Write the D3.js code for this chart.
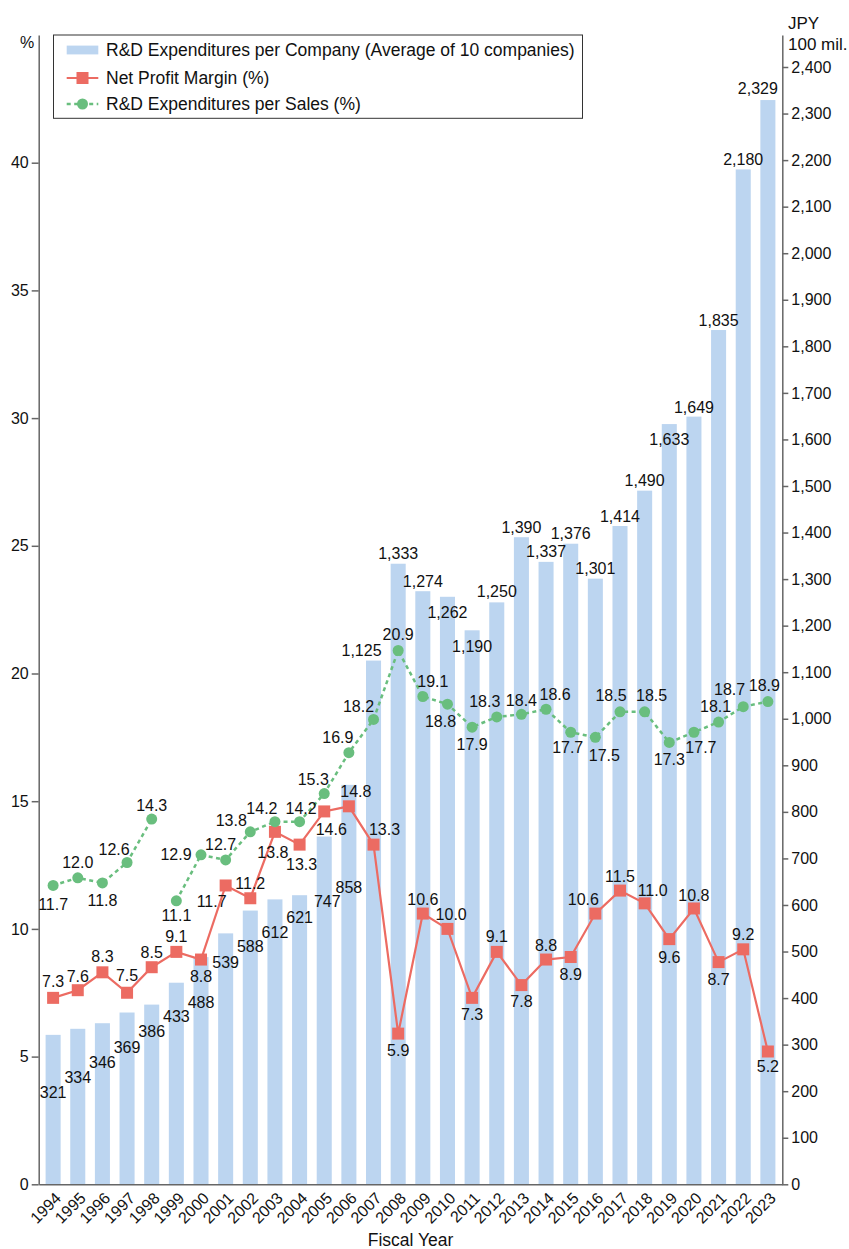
<!DOCTYPE html>
<html>
<head>
<meta charset="utf-8">
<script src="https://cdn.jsdelivr.net/npm/d3@7"></script>
<style>
  body { margin: 0; background: #fff; }
  text { font-family: "Liberation Sans", Arial, Helvetica, sans-serif; fill: #111; }
</style>
</head>
<body>
<svg id="chart" width="849" height="1249"></svg>
<script>
// ---------------- DATA ----------------
const years = ["1994","1995","1996","1997","1998","1999","2000","2001","2002","2003",
               "2004","2005","2006","2007","2008","2009","2010","2011","2012","2013",
               "2014","2015","2016","2017","2018","2019","2020","2021","2022","2023"];

// R&D expenditures per company (JPY 100 mil., average of 10 companies)
const rdPerCompany = [321, 334, 346, 369, 386, 433, 488, 539, 588, 612,
                      621, 747, 858, 1125, 1333, 1274, 1262, 1190, 1250, 1390,
                      1337, 1376, 1301, 1414, 1490, 1633, 1649, 1835, 2180, 2329];

// Net profit margin (%)
const netProfitMargin = [7.3, 7.6, 8.3, 7.5, 8.5, 9.1, 8.8, 11.7, 11.2, 13.8,
                         13.3, 14.6, 14.8, 13.3, 5.9, 10.6, 10.0, 7.3, 9.1, 7.8,
                         8.8, 8.9, 10.6, 11.5, 11.0, 9.6, 10.8, 8.7, 9.2, 5.2];

// R&D expenditures per sales (%)
const rdPerSales = [11.7, 12.0, 11.8, 12.6, 14.3, 11.1, 12.9, 12.7, 13.8, 14.2,
                    14.2, 15.3, 16.9, 18.2, 20.9, 19.1, 18.8, 17.9, 18.3, 18.4,
                    18.6, 17.7, 17.5, 18.5, 18.5, 17.3, 17.7, 18.1, 18.7, 18.9];

// the R&D/sales line is broken before these years
const rdPerSalesBreakBefore = ["1999"];

// tick labels
const leftTicks = [0, 5, 10, 15, 20, 25, 30, 35, 40];
const rightTicks = [0, 100, 200, 300, 400, 500, 600, 700, 800, 900, 1000, 1100, 1200,
                    1300, 1400, 1500, 1600, 1700, 1800, 1900, 2000, 2100, 2200, 2300, 2400];

const legendLabels = ["R&D Expenditures per Company (Average of 10 companies)",
                      "Net Profit Margin (%)",
                      "R&D Expenditures per Sales (%)"];

// ---------------- LABEL PLACEMENT (pixel offsets of the label centre from its mark) ----------------
const barLabelOffsets = [[0,58],[0,49],[0,39],[0,34.5],[0,27],[0,34],[0,45],[0,29],[0,36],[0,33],
                         [0,22],[3,65],[0,103],[-12,-10],[0,-10.5],[0,-10],[0,16],[0,15.6],[0,-10.7],[0,-10],
                         [0,-10],[0,-10.5],[0,-10.4],[0,-10],[0,-10],[0,15],[0,-9.4],[0,-10],[0,-10],[-10,-12]];
const salesLabelOffsets = [[0,18.5],[0,-15],[0,17],[-13,-13.5],[0,-14],[0,15],[-25,0],[-5,-16],[-19,-11],[-13,-13],
                           [1.5,-13.3],[-11,-14.5],[-11,-15],[-15,-13.5],[0,-16],[10,-15],[-7,17],[0,17],[-12,-16],[0,-14],
                           [9,-15],[-3,15.5],[9,18],[-9,-16],[7,-16],[0,16.6],[7,15.5],[-3,-16],[-13.6,-17.4],[-3.5,-16.6]];
const marginLabelOffsets = [[0,-16.5],[0,-13.5],[0,-15.6],[0,-17.7],[0,-14.5],[0,-15],[0,16.5],[-14,16],[0,-15],[-2,21],
                            [2,19.5],[7,18],[7,-14.6],[11,-15],[0,16.4],[0,-14.6],[3.7,-14.6],[0,17],[0,-15],[0,16.6],
                            [0,-14.5],[0,17],[-12,-14.6],[0,-14.6],[8,-12.7],[0,18],[0,-13.5],[0,17],[0,-15],[0,14.5]];

// ---------------- STYLE ----------------
const BAR = "#bcd5f0", RED = "#ec6b62", GREEN = "#69be7e", AXIS = "#666";
const plotLeft = 38.7, plotRight = 782.3, plotTop = 35, plotBottom = 1184.3;

const svg = d3.select("#chart");

const x = d3.scaleBand().domain(years).range([plotLeft, plotRight]).paddingInner(0.39).paddingOuter(0.28);
const yL = d3.scaleLinear().domain([0, 45]).range([plotBottom, plotTop]);
const yR = d3.scaleLinear().domain([0, d3.max(rdPerCompany) * 1.06]).range([plotBottom, plotTop]);
const cx = d => x(d) + x.bandwidth() / 2;

// bars
svg.append("g").selectAll("rect").data(years).join("rect")
  .attr("x", d => x(d)).attr("width", x.bandwidth())
  .attr("y", (d, i) => yR(rdPerCompany[i]))
  .attr("height", (d, i) => plotBottom - yR(rdPerCompany[i]))
  .attr("fill", BAR);

// axes
function styleAxis(g) {
  g.select(".domain").attr("stroke", AXIS).attr("stroke-width", 1.5);
  g.selectAll(".tick line").attr("stroke", AXIS).attr("stroke-width", 1.5);
  g.selectAll(".tick text").attr("font-size", 16).attr("fill", "#111")
    .attr("font-family", '"Liberation Sans", Arial, sans-serif');
}
svg.append("g").attr("transform", `translate(${plotLeft},0)`)
  .call(d3.axisLeft(yL).tickValues(leftTicks).tickSize(7).tickPadding(3).tickSizeOuter(0))
  .call(styleAxis);
svg.append("g").attr("transform", `translate(${plotRight},0)`)
  .call(d3.axisRight(yR).tickValues(rightTicks).tickFormat(d3.format(",")).tickSize(6).tickPadding(3).tickSizeOuter(0))
  .call(styleAxis);
const xAxis = svg.append("g").attr("transform", `translate(0,${plotBottom})`)
  .call(d3.axisBottom(x).tickSize(0).tickSizeOuter(0))
  .call(styleAxis);
xAxis.selectAll(".tick text")
  .attr("x", 0).attr("y", 0).attr("dy", "0.35em")
  .attr("text-anchor", "end")
  .attr("transform", "translate(5,11) rotate(-45)");

// axis titles
svg.append("text").attr("x", 27).attr("y", 48).attr("text-anchor", "middle").attr("font-size", 16).text("%");
svg.append("text").attr("x", 788).attr("y", 29).attr("font-size", 17).text("JPY");
svg.append("text").attr("x", 788).attr("y", 50).attr("font-size", 17).text("100 mil.");
svg.append("text").attr("x", (plotLeft + plotRight) / 2).attr("y", 1246).attr("text-anchor", "middle")
  .attr("font-size", 17.5).text("Fiscal Year");

// bar labels
svg.append("g").selectAll("text").data(years).join("text")
  .attr("x", (d, i) => cx(d) + barLabelOffsets[i][0])
  .attr("y", (d, i) => yR(rdPerCompany[i]) + barLabelOffsets[i][1])
  .attr("dy", "0.35em").attr("text-anchor", "middle").attr("font-size", 16)
  .text((d, i) => d3.format(",")(rdPerCompany[i]));

// net profit margin line
const marginPts = years.map((d, i) => [cx(d), yL(netProfitMargin[i])]);
svg.append("path").attr("d", d3.line()(marginPts))
  .attr("fill", "none").attr("stroke", RED).attr("stroke-width", 2.2);

// R&D per sales line (segmented)
const salesSegments = [];
years.forEach((d, i) => {
  if (i === 0 || rdPerSalesBreakBefore.includes(d)) salesSegments.push([]);
  salesSegments[salesSegments.length - 1].push([cx(d), yL(rdPerSales[i])]);
});
svg.append("g").selectAll("path").data(salesSegments).join("path")
  .attr("d", d3.line())
  .attr("fill", "none").attr("stroke", GREEN).attr("stroke-width", 2.5)
  .attr("stroke-dasharray", "4,3.5");

// markers
svg.append("g").selectAll("rect").data(years).join("rect")
  .attr("x", (d, i) => cx(d) - 6).attr("y", (d, i) => yL(netProfitMargin[i]) - 6)
  .attr("width", 12).attr("height", 12).attr("fill", RED);
svg.append("g").selectAll("circle").data(years).join("circle")
  .attr("cx", d => cx(d)).attr("cy", (d, i) => yL(rdPerSales[i]))
  .attr("r", 5.5).attr("fill", GREEN);

// point labels
const f1 = d3.format(".1f");
svg.append("g").selectAll("text").data(years).join("text")
  .attr("x", (d, i) => cx(d) + salesLabelOffsets[i][0])
  .attr("y", (d, i) => yL(rdPerSales[i]) + salesLabelOffsets[i][1])
  .attr("dy", "0.35em").attr("text-anchor", "middle").attr("font-size", 16)
  .text((d, i) => f1(rdPerSales[i]));
svg.append("g").selectAll("text").data(years).join("text")
  .attr("x", (d, i) => cx(d) + marginLabelOffsets[i][0])
  .attr("y", (d, i) => yL(netProfitMargin[i]) + marginLabelOffsets[i][1])
  .attr("dy", "0.35em").attr("text-anchor", "middle").attr("font-size", 16)
  .text((d, i) => f1(netProfitMargin[i]));

// legend
const lg = svg.append("g");
lg.append("rect").attr("x", 53.5).attr("y", 35).attr("width", 529).attr("height", 83.3)
  .attr("fill", "#fff").attr("stroke", "#333").attr("stroke-width", 1);
const rowY = [50, 78, 104];
lg.append("rect").attr("x", 66.7).attr("y", rowY[0] - 4.4).attr("width", 31.6).attr("height", 8.8).attr("fill", BAR);
lg.append("line").attr("x1", 66.7).attr("x2", 98.3).attr("y1", rowY[1]).attr("y2", rowY[1])
  .attr("stroke", RED).attr("stroke-width", 2.2);
lg.append("rect").attr("x", 82.5 - 6).attr("y", rowY[1] - 6).attr("width", 12).attr("height", 12).attr("fill", RED);
lg.append("line").attr("x1", 66.7).attr("x2", 98.3).attr("y1", rowY[2]).attr("y2", rowY[2])
  .attr("stroke", GREEN).attr("stroke-width", 2.5).attr("stroke-dasharray", "4,3.5");
lg.append("circle").attr("cx", 82.5).attr("cy", rowY[2]).attr("r", 5.5).attr("fill", GREEN);
lg.selectAll("text.lt").data(legendLabels).join("text").attr("class", "lt")
  .attr("x", 106).attr("y", (d, i) => rowY[i]).attr("dy", "0.35em")
  .attr("font-size", 17.5).text(d => d);
</script>
</body>
</html>
